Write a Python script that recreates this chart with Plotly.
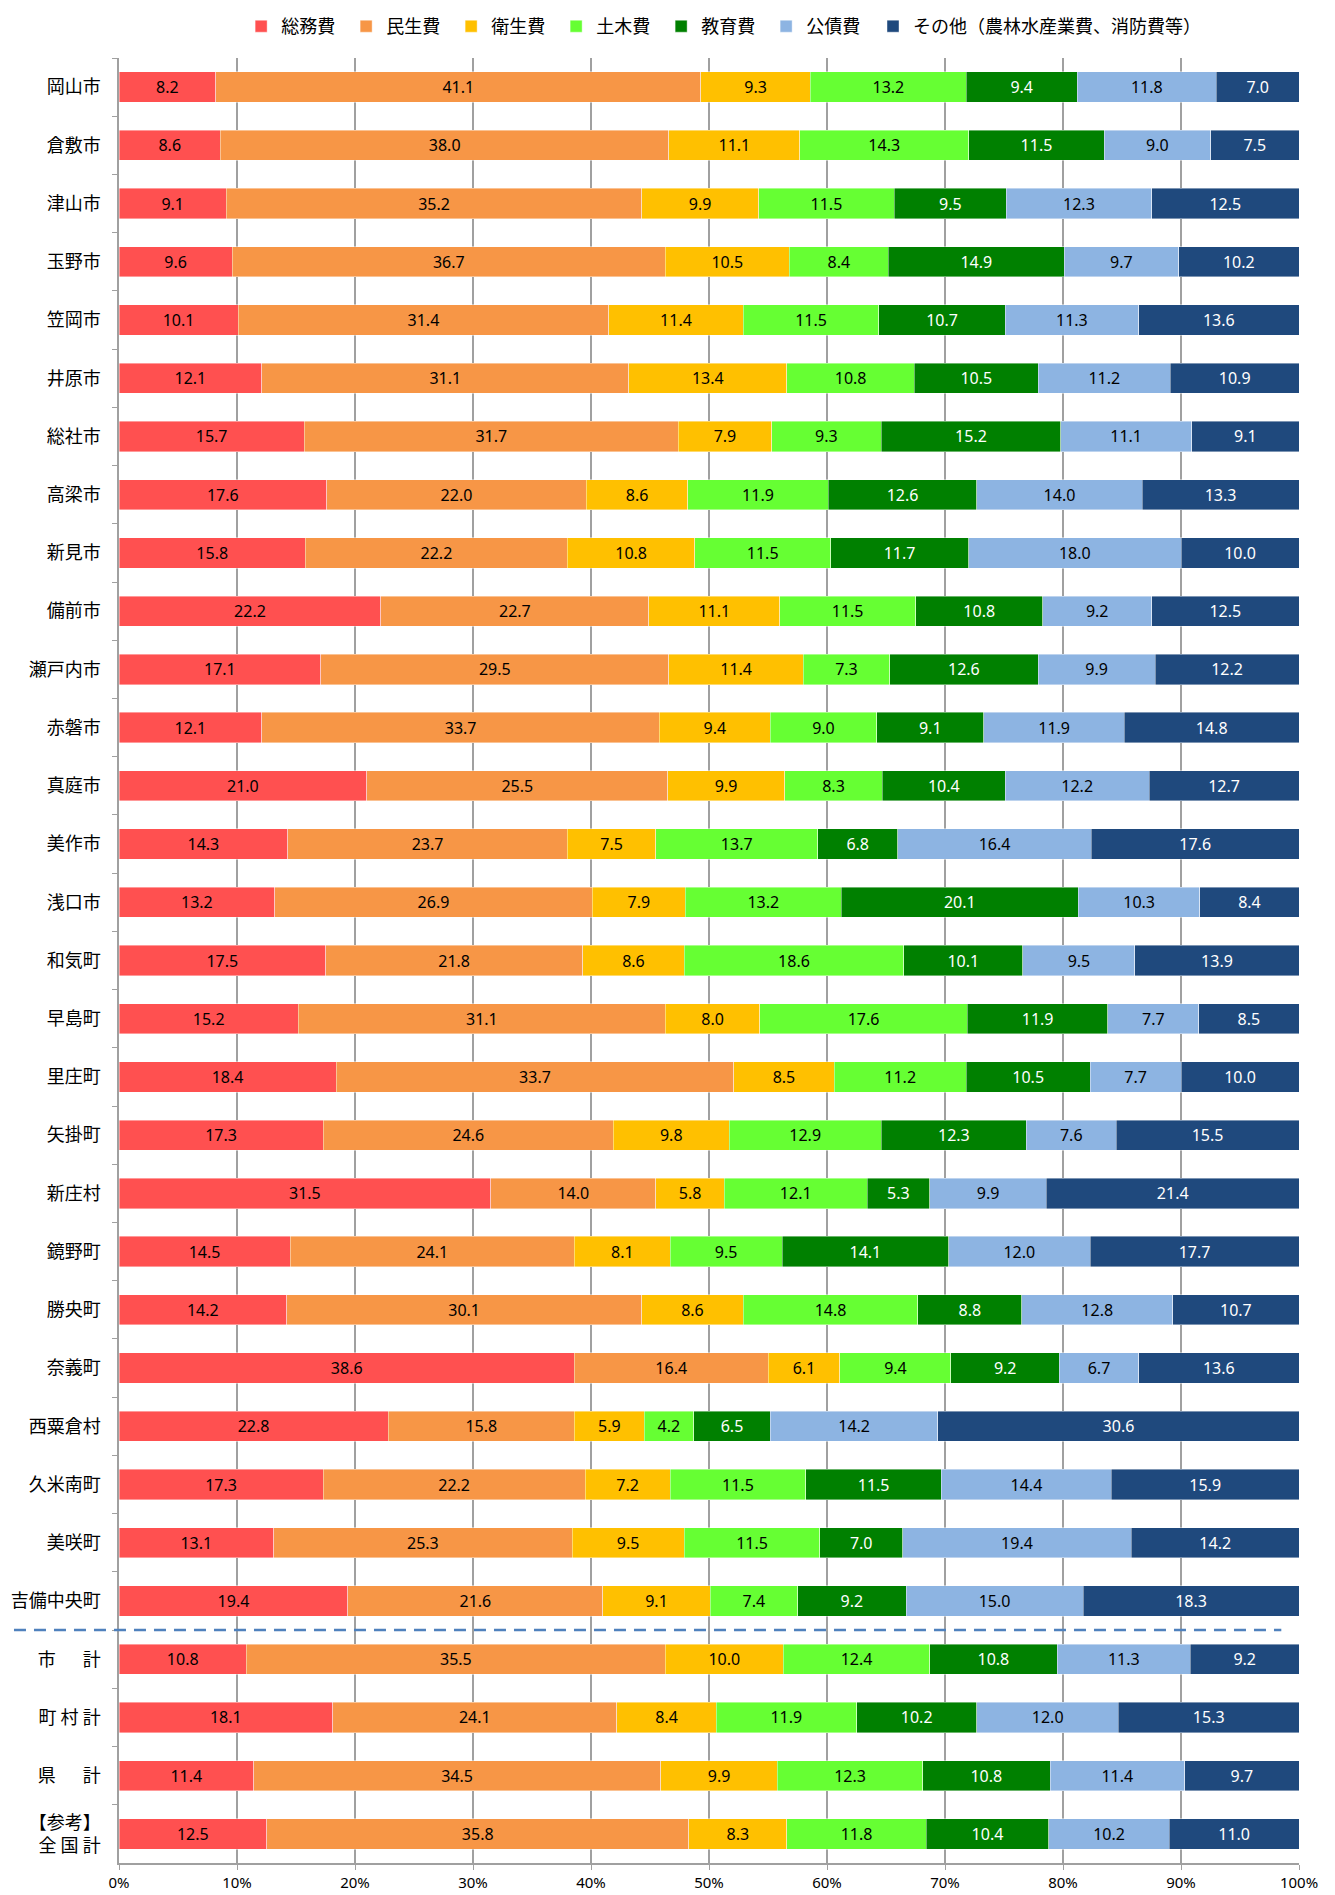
import plotly.graph_objects as go

# 歳出の目的別構成比（%）
areas = ['岡山市', '倉敷市', '津山市', '玉野市', '笠岡市', '井原市', '総社市', '高梁市',
         '新見市', '備前市', '瀬戸内市', '赤磐市', '真庭市', '美作市', '浅口市',
         '和気町', '早島町', '里庄町', '矢掛町', '新庄村', '鏡野町', '勝央町', '奈義町',
         '西粟倉村', '久米南町', '美咲町', '吉備中央町',
         '市　\u2002計', '町 村 計', '県　\u2002計', '【参考】<br>全 国 計']

somu = [8.2, 8.6, 9.1, 9.6, 10.1, 12.1, 15.7, 17.6, 15.8, 22.2, 17.1, 12.1, 21.0, 14.3, 13.2,
        17.5, 15.2, 18.4, 17.3, 31.5, 14.5, 14.2, 38.6, 22.8, 17.3, 13.1, 19.4,
        10.8, 18.1, 11.4, 12.5]
minsei = [41.1, 38.0, 35.2, 36.7, 31.4, 31.1, 31.7, 22.0, 22.2, 22.7, 29.5, 33.7, 25.5, 23.7, 26.9,
          21.8, 31.1, 33.7, 24.6, 14.0, 24.1, 30.1, 16.4, 15.8, 22.2, 25.3, 21.6,
          35.5, 24.1, 34.5, 35.8]
eisei = [9.3, 11.1, 9.9, 10.5, 11.4, 13.4, 7.9, 8.6, 10.8, 11.1, 11.4, 9.4, 9.9, 7.5, 7.9,
         8.6, 8.0, 8.5, 9.8, 5.8, 8.1, 8.6, 6.1, 5.9, 7.2, 9.5, 9.1,
         10.0, 8.4, 9.9, 8.3]
doboku = [13.2, 14.3, 11.5, 8.4, 11.5, 10.8, 9.3, 11.9, 11.5, 11.5, 7.3, 9.0, 8.3, 13.7, 13.2,
          18.6, 17.6, 11.2, 12.9, 12.1, 9.5, 14.8, 9.4, 4.2, 11.5, 11.5, 7.4,
          12.4, 11.9, 12.3, 11.8]
kyoiku = [9.4, 11.5, 9.5, 14.9, 10.7, 10.5, 15.2, 12.6, 11.7, 10.8, 12.6, 9.1, 10.4, 6.8, 20.1,
          10.1, 11.9, 10.5, 12.3, 5.3, 14.1, 8.8, 9.2, 6.5, 11.5, 7.0, 9.2,
          10.8, 10.2, 10.8, 10.4]
kosai = [11.8, 9.0, 12.3, 9.7, 11.3, 11.2, 11.1, 14.0, 18.0, 9.2, 9.9, 11.9, 12.2, 16.4, 10.3,
         9.5, 7.7, 7.7, 7.6, 9.9, 12.0, 12.8, 6.7, 14.2, 14.4, 19.4, 15.0,
         11.3, 12.0, 11.4, 10.2]
sonota = [7.0, 7.5, 12.5, 10.2, 13.6, 10.9, 9.1, 13.3, 10.0, 12.5, 12.2, 14.8, 12.7, 17.6, 8.4,
          13.9, 8.5, 10.0, 15.5, 21.4, 17.7, 10.7, 13.6, 30.6, 15.9, 14.2, 18.3,
          9.2, 15.3, 9.7, 11.0]

series = [
    ('総務費', somu, '#FF5050', 'black'),
    ('民生費', minsei, '#F79646', 'black'),
    ('衛生費', eisei, '#FFC000', 'black'),
    ('土木費', doboku, '#66FF33', 'black'),
    ('教育費', kyoiku, '#008000', 'white'),
    ('公債費', kosai, '#8DB4E2', 'black'),
    ('その他（農林水産業費、消防費等）', sonota, '#1F497D', 'white'),
]

fig = go.Figure()
for i, (name, vals, color, tcolor) in enumerate(series):
    fig.add_trace(go.Bar(
        y=areas, x=vals, name=name, orientation='h',
        legend='legend2' if i == len(series) - 1 else 'legend',
        marker=dict(color=color, line=dict(width=0.6, color='rgba(255,255,255,0.7)')),
        text=vals, texttemplate='%{text:.1f}', textposition='inside',
        insidetextanchor='middle', textangle=0, constraintext='none',
        textfont=dict(family='Noto Sans', size=16, color=tcolor),
    ))

# 市町村と合計の区切り線
fig.add_shape(type='line', xref='paper', yref='y', x0=-0.089, x1=0.985, y0=26.5, y1=26.5,
              line=dict(color='#4F81BD', width=2.5, dash='12px,8px'))

# the page body has an 8px margin, so the figure is 8px smaller than the window
legend_font = dict(family='Noto Sans CJK JP', size=18, color='black')
fig.update_layout(
    width=1327, height=1887,
    barmode='stack', barnorm='percent', bargap=0.48,
    plot_bgcolor='white', paper_bgcolor='white',
    margin=dict(l=111, r=36, t=50, b=32, autoexpand=False),
    font=dict(family='Noto Sans CJK JP', size=16, color='black'),
    showlegend=True,
    legend=dict(orientation='h', x=0.1035, xanchor='left', y=1.0277, yanchor='top',
                font=legend_font, traceorder='normal', entrywidth=60),
    legend2=dict(orientation='h', x=0.639, xanchor='left', y=1.0277, yanchor='top',
                 font=legend_font),
    uniformtext=dict(minsize=16, mode='show'),
)
fig.update_xaxes(range=[0, 100], dtick=10, ticksuffix='%', showgrid=True,
                 gridcolor='#A0A0A0', gridwidth=1.5, showline=True, linecolor='#A0A0A0',
                 linewidth=1.5, ticks='outside', ticklen=5, tickcolor='#A0A0A0',
                 tickfont=dict(family='Noto Sans', size=15), zeroline=False)
fig.update_yaxes(type='category', categoryorder='array', categoryarray=areas,
                 autorange='reversed', showline=True, linecolor='#A0A0A0', linewidth=1.5,
                 ticks='outside', tickson='boundaries', ticklen=5, tickcolor='#A0A0A0',
                 ticklabelstandoff=13,
                 tickfont=dict(family='Noto Sans CJK JP', size=18), showgrid=False)

fig.write_html("out.html")
